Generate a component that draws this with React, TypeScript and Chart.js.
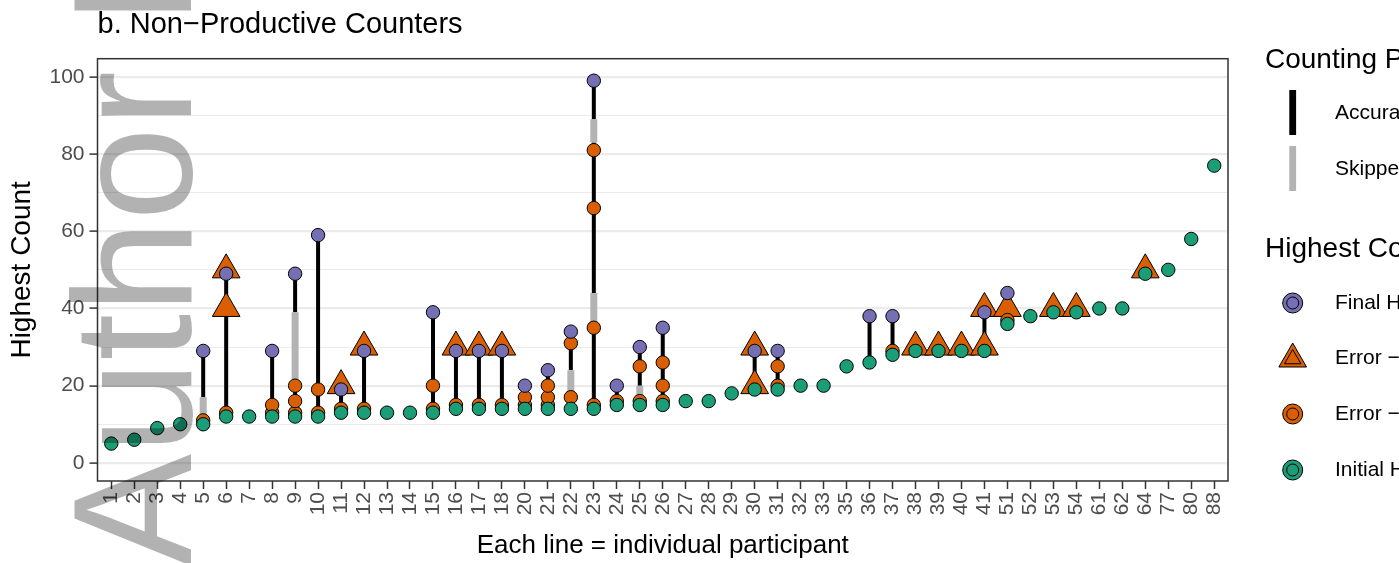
import React, { useEffect, useRef } from 'react';
import { Chart, registerables } from 'chart.js';

Chart.register(...registerables);

const FONT = "'Liberation Sans', Arial, Helvetica, sans-serif";
Chart.defaults.font.family = FONT;

const PURPLE = '#7570B3';
const ORANGE = '#D95F02';
const GREEN = '#1B9E77';
const GREY = '#B3B3B3';

const plotTitle = 'b. Non\u2212Productive Counters';
const xTitle = 'Each line = individual participant';
const yTitle = 'Highest Count';

const categories = ['1', '2', '3', '4', '5', '6', '7', '8', '9', '10', '11', '12', '13', '14', '15', '16', '17', '18', '20', '21', '22', '23', '24', '25', '26', '27', '28', '29', '30', '31', '32', '33', '35', '36', '37', '38', '39', '40', '41', '51', '52', '53', '54', '61', '62', '64', '77', '80', '88'];

const yTickValues = [0, 10, 20, 30, 40, 50, 60, 70, 80, 90, 100];

const initialHighest = [5, 6, 9, 10, 10, 12, 12, 12, 12, 12, 13, 13, 13, 13, 13, 14, 14, 14, 14, 14, 14, 14, 15, 15, 15, 16, 16, 18, 19, 19, 20, 20, 25, 26, 28, 29, 29, 29, 29, 36, 38, 39, 39, 40, 40, 49, 50, 58, 77];

const finalHighest: [string, number][] = [['5', 29], ['6', 49], ['8', 29], ['9', 49], ['10', 59], ['11', 19], ['12', 29], ['15', 39], ['16', 29], ['17', 29], ['18', 29], ['20', 20], ['21', 24], ['22', 34], ['23', 99], ['24', 20], ['25', 30], ['26', 35], ['30', 29], ['31', 29], ['36', 38], ['37', 38], ['41', 39], ['51', 44]];

const errorTriangles: [string, number][] = [['6', 40], ['6', 50], ['11', 20], ['12', 30], ['16', 30], ['17', 30], ['18', 30], ['30', 20], ['30', 30], ['38', 30], ['39', 30], ['40', 30], ['41', 30], ['41', 40], ['51', 40], ['53', 40], ['54', 40], ['64', 50]];

const errorCircles: [string, number][] = [['5', 11], ['6', 13], ['8', 13], ['8', 15], ['9', 13], ['9', 16], ['9', 20], ['10', 13], ['10', 19], ['11', 14], ['12', 14], ['15', 14], ['15', 20], ['16', 15], ['17', 15], ['18', 15], ['20', 15], ['20', 17], ['21', 15], ['21', 17], ['21', 20], ['22', 17], ['22', 31], ['23', 15], ['23', 35], ['23', 66], ['23', 81], ['24', 16], ['25', 16], ['25', 25], ['26', 16], ['26', 20], ['26', 26], ['31', 20], ['31', 25], ['37', 29], ['51', 37]];

const accurateSegments: [string, number, number][] = [['5', 17, 29], ['6', 13, 49], ['8', 13, 29], ['9', 13, 20], ['9', 39, 49], ['10', 13, 59], ['11', 14, 19], ['12', 14, 29], ['15', 14, 39], ['16', 15, 29], ['17', 15, 29], ['18', 15, 29], ['20', 15, 20], ['21', 15, 24], ['22', 24, 34], ['23', 15, 35], ['23', 44, 83], ['23', 89, 99], ['24', 16, 20], ['25', 20, 30], ['26', 16, 35], ['30', 20, 29], ['31', 20, 29], ['36', 26, 38], ['37', 29, 38], ['41', 30, 39], ['51', 37, 44]];

const skippedSegments: [string, number, number][] = [['5', 11, 17], ['9', 20, 39], ['22', 17, 24], ['23', 35, 44], ['23', 83, 89], ['25', 16, 20]];

const legendProcessTitle = 'Counting Process';
const legendProcessItems = ['Accurate', 'Skipped'];
const legendCountTitle = 'Highest Count';
const legendCountItems = ['Final Highest Count', 'Error \u2212 Stopped Counting', 'Error \u2212 Continued Counting', 'Initial Highest Count'];

const watermark = 'Author Manuscript';

function circlePath(ctx: CanvasRenderingContext2D, x: number, y: number, r: number, fill: string) {
  ctx.beginPath();
  ctx.arc(x, y, r, 0, Math.PI * 2);
  ctx.fillStyle = fill;
  ctx.fill();
  ctx.lineWidth = 1;
  ctx.strokeStyle = '#000';
  ctx.stroke();
}

function trianglePath(ctx: CanvasRenderingContext2D, x: number, y: number, r: number, fill: string) {
  ctx.beginPath();
  for (let k = 0; k < 3; k++) {
    const a = (k * 2 * Math.PI) / 3;
    const px = x + Math.sin(a) * r;
    const py = y - Math.cos(a) * r;
    if (k === 0) ctx.moveTo(px, py);
    else ctx.lineTo(px, py);
  }
  ctx.closePath();
  ctx.fillStyle = fill;
  ctx.fill();
  ctx.lineWidth = 1;
  ctx.strokeStyle = '#000';
  ctx.stroke();
}

const decorPlugin = {
  id: 'decor',
  afterDatasetsDraw(chart: any) {
    const { ctx, chartArea: ca } = chart;
    ctx.save();
    ctx.strokeStyle = '#333333';
    ctx.lineWidth = 1.5;
    ctx.strokeRect(ca.left, ca.top, ca.right - ca.left, ca.bottom - ca.top);
    ctx.restore();
  },
  afterDraw(chart: any) {
    const { ctx, chartArea: ca } = chart;
    ctx.save();
    // plot title
    ctx.fillStyle = '#000';
    ctx.textAlign = 'left';
    ctx.textBaseline = 'alphabetic';
    ctx.font = `29px ${FONT}`;
    ctx.fillText(plotTitle, ca.left, 33);

    // legend
    const lx = 1265;
    const keyX = 1292.7;
    const textX = 1335;
    ctx.font = `28px ${FONT}`;
    ctx.fillText(legendProcessTitle, lx, 68);
    ctx.fillStyle = '#000';
    ctx.fillRect(keyX - 3.4, 90, 6.8, 45);
    ctx.fillStyle = GREY;
    ctx.fillRect(keyX - 3.4, 146, 6.8, 45);
    ctx.fillStyle = '#000';
    ctx.font = `21px ${FONT}`;
    ctx.textBaseline = 'middle';
    ctx.fillText(legendProcessItems[0], textX, 113);
    ctx.fillText(legendProcessItems[1], textX, 169);

    ctx.textBaseline = 'alphabetic';
    ctx.font = `28px ${FONT}`;
    ctx.fillText(legendCountTitle, lx, 257);

    const ys = [303, 358, 414, 470];
    circlePath(ctx, keyX, ys[0], 10, PURPLE);
    circlePath(ctx, keyX, ys[0], 6, PURPLE);
    trianglePath(ctx, keyX, ys[1] + 1, 16, ORANGE);
    trianglePath(ctx, keyX, ys[1] + 1, 9.5, ORANGE);
    circlePath(ctx, keyX, ys[2], 10, ORANGE);
    circlePath(ctx, keyX, ys[2], 6, ORANGE);
    circlePath(ctx, keyX, ys[3], 10, GREEN);
    circlePath(ctx, keyX, ys[3], 6, GREEN);
    ctx.fillStyle = '#000';
    ctx.font = `21px ${FONT}`;
    ctx.textBaseline = 'middle';
    legendCountItems.forEach((t, i) => ctx.fillText(t, textX, ys[i]));

    // watermark
    ctx.translate(191, 566);
    ctx.rotate(-Math.PI / 2);
    ctx.font = `168px ${FONT}`;
    ctx.textBaseline = 'alphabetic';
    ctx.fillStyle = 'rgba(0,0,0,0.3)';
    ctx.fillText(watermark, 0, 0);
    ctx.restore();
  },
};

export default function App() {
  const ref = useRef<HTMLCanvasElement>(null);

  useEffect(() => {
    const idx = (l: string) => categories.indexOf(l);
    const pts = (arr: [string, number][]) => arr.map(([l, v]) => ({ x: idx(l), y: v }));
    const segs = (arr: [string, number, number][]) => {
      const out: any[] = [];
      arr.forEach(([l, a, b]) => {
        out.push({ x: idx(l), y: a }, { x: idx(l), y: b }, { x: idx(l), y: null });
      });
      return out;
    };
    const pointBase = { borderColor: '#000', borderWidth: 1, hoverRadius: 0 };

    const chart = new Chart(ref.current as HTMLCanvasElement, {
      type: 'scatter',
      data: {
        datasets: [
          {
            type: 'line',
            label: 'Accurate',
            data: segs(accurateSegments),
            borderColor: '#000',
            borderWidth: 4,
            pointRadius: 0,
            spanGaps: false,
            fill: false,
            order: 6,
          } as any,
          {
            type: 'line',
            label: 'Skipped',
            data: segs(skippedSegments),
            borderColor: GREY,
            borderWidth: 7,
            pointRadius: 0,
            spanGaps: false,
            fill: false,
            order: 5,
          } as any,
          {
            label: 'Error triangle',
            data: pts(errorTriangles),
            pointStyle: 'triangle',
            pointRadius: 16,
            backgroundColor: ORANGE,
            ...pointBase,
            order: 4,
          } as any,
          {
            label: 'Error circle',
            data: pts(errorCircles),
            pointStyle: 'circle',
            pointRadius: 6.7,
            backgroundColor: ORANGE,
            ...pointBase,
            order: 3,
          } as any,
          {
            label: 'Initial',
            data: initialHighest.map((v, i) => ({ x: i, y: v })),
            pointStyle: 'circle',
            pointRadius: 6.7,
            backgroundColor: GREEN,
            ...pointBase,
            order: 2,
          } as any,
          {
            label: 'Final',
            data: pts(finalHighest),
            pointStyle: 'circle',
            pointRadius: 6.7,
            backgroundColor: PURPLE,
            ...pointBase,
            order: 1,
          } as any,
        ],
      },
      options: {
        animation: false,
        responsive: true,
        maintainAspectRatio: false,
        events: [],
        layout: { padding: { left: 0, top: 58.7, right: 171, bottom: 0 } },
        plugins: {
          legend: { display: false },
          tooltip: { enabled: false },
          title: { display: false },
        },
        scales: {
          x: {
            type: 'linear',
            min: -0.6,
            max: 48.6,
            afterBuildTicks: (s: any) => {
              s.ticks = categories.map((_, i) => ({ value: i }));
            },
            afterFit: (s: any) => {
              s.height = 82;
            },
            ticks: {
              autoSkip: false,
              minRotation: 90,
              maxRotation: 90,
              padding: 3,
              color: '#4D4D4D',
              font: { size: 21, family: FONT },
              callback: (v: any) => categories[v as number] ?? '',
            },
            grid: {
              display: true,
              drawOnChartArea: false,
              drawTicks: true,
              tickLength: 8,
              tickColor: '#333333',
              tickWidth: 1.5,
              color: 'rgba(0,0,0,0)',
            },
            border: { display: false },
            title: {
              display: true,
              text: xTitle,
              color: '#000',
              font: { size: 26, family: FONT },
              padding: { top: 0, bottom: 1.4 },
            },
          },
          y: {
            type: 'linear',
            min: -4.7,
            max: 104.7,
            afterBuildTicks: (s: any) => {
              s.ticks = yTickValues.map((v) => ({ value: v }));
            },
            afterFit: (s: any) => {
              s.width = 97.5;
            },
            ticks: {
              padding: 5,
              color: '#4D4D4D',
              font: { size: 21, family: FONT },
              callback: (v: any) => ((v as number) % 20 === 0 ? String(v) : ''),
            },
            grid: {
              color: '#EBEBEB',
              lineWidth: (c: any) => (c.tick && c.tick.value % 20 === 0 ? 2.2 : 1.1),
              drawTicks: true,
              tickLength: 8,
              tickWidth: 1.5,
              tickColor: (c: any) => (c.tick && c.tick.value % 20 === 0 ? '#333333' : 'rgba(0,0,0,0)'),
            },
            border: { display: false },
            title: {
              display: true,
              text: yTitle,
              color: '#000',
              font: { size: 28, family: FONT },
              padding: { top: 5.2, bottom: 0 },
            },
          },
        },
      } as any,
      plugins: [decorPlugin],
    });
    return () => chart.destroy();
  }, []);

  return (
    <div style={{ position: 'absolute', left: 0, top: 0, width: 1399, height: 563, background: '#fff' }}>
      <canvas ref={ref} />
    </div>
  );
}
